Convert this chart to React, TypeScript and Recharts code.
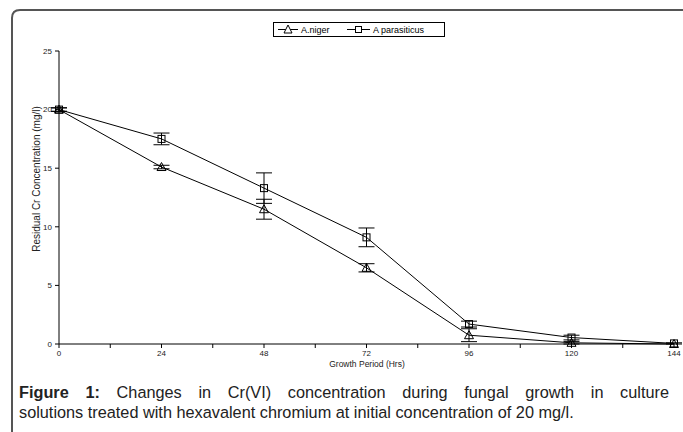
import React from 'react';
import { LineChart, Line, XAxis, YAxis, ErrorBar } from 'recharts';

const hours = [0, 24, 48, 72, 96, 120, 144];
const nigerValues = [20, 15.1, 11.5, 6.5, 0.75, 0.1, 0];
const nigerErrors = [0.15, 0.15, 0.85, 0.35, 0.55, 0.1, 0];
const parasiticusValues = [20, 17.5, 13.3, 9.1, 1.7, 0.55, 0.05];
const parasiticusErrors = [0.15, 0.5, 1.3, 0.8, 0.25, 0.2, 0.05];
const xTicks = [0, 12, 24, 36, 48, 60, 72, 84, 96, 108, 120, 132, 144];
const yTicks = [0, 5, 10, 15, 20, 25];
const seriesNames = ['A.niger', 'A parasiticus'];
const xTitle = 'Growth Period (Hrs)';
const yTitle = 'Residual Cr Concentration (mg/l)';
const captionBold = 'Figure 1:';
const captionLine1 = ' Changes in Cr(VI) concentration during fungal growth in culture';
const captionLine2 = 'solutions treated with hexavalent chromium at initial concentration of 20 mg/l.';

const data = hours.map((h, i) => ({
  hour: h,
  niger: nigerValues[i],
  nigerErr: nigerErrors[i],
  para: parasiticusValues[i],
  paraErr: parasiticusErrors[i],
}));

const FONT = '"Liberation Sans", Arial, sans-serif';

const TriangleDot = (props: any) => {
  const { cx, cy } = props;
  if (cx == null || cy == null) return null;
  return (
    <path
      d={`M${cx},${cy - 4.5} L${cx + 4.5},${cy + 3.5} L${cx - 4.5},${cy + 3.5} Z`}
      fill="none"
      stroke="#000"
      strokeWidth={1}
    />
  );
};

const SquareDot = (props: any) => {
  const { cx, cy } = props;
  if (cx == null || cy == null) return null;
  return <rect x={cx - 3.5} y={cy - 3.5} width={7} height={7} fill="none" stroke="#000" strokeWidth={1} />;
};

const XTick = (props: any) => {
  const { x, y, payload } = props;
  const show = payload.value % 24 === 0;
  return (
    <g>
      {show && (
        <text x={x} y={y + 6} textAnchor="middle" fontSize={8} fill="#222" fontFamily={FONT}>
          {payload.value}
        </text>
      )}
    </g>
  );
};

export default function App() {
  return (
    <div style={{ position: 'absolute', left: 0, top: 0, width: 683, height: 432, background: '#fff', overflow: 'hidden' }}>
      <div style={{ position: 'absolute', left: 0, top: 0 }}>
        <LineChart width={683} height={432} data={data} margin={{ top: 51, right: 9, bottom: 58, left: 0 }}>
          <XAxis
            dataKey="hour"
            type="number"
            domain={[0, 144]}
            ticks={xTicks}
            interval={0}
            tick={<XTick />}
            tickSize={4}
            height={30}
            axisLine={{ stroke: '#000' }}
            tickLine={{ stroke: '#000' }}
          />
          <YAxis
            type="number"
            domain={[0, 25]}
            ticks={yTicks}
            interval={0}
            width={59}
            tickSize={4}
            tickMargin={3}
            axisLine={{ stroke: '#000' }}
            tickLine={{ stroke: '#000' }}
            tick={{ fontSize: 8, fill: '#222', fontFamily: FONT }}
          />
          <Line
            dataKey="niger"
            name={seriesNames[0]}
            stroke="#000"
            strokeWidth={1}
            isAnimationActive={false}
            dot={<TriangleDot />}
            activeDot={false}
          >
            <ErrorBar dataKey="nigerErr" direction="y" width={8} stroke="#000" strokeWidth={1} />
          </Line>
          <Line
            dataKey="para"
            name={seriesNames[1]}
            stroke="#000"
            strokeWidth={1}
            isAnimationActive={false}
            dot={<SquareDot />}
            activeDot={false}
          >
            <ErrorBar dataKey="paraErr" direction="y" width={8} stroke="#000" strokeWidth={1} />
          </Line>
        </LineChart>
      </div>
      <svg width={683} height={432} style={{ position: 'absolute', left: 0, top: 0, pointerEvents: 'none' }}>
        <path d="M12,432 L12,18 Q12,10 20,10 L683,10" fill="none" stroke="#555" strokeWidth={2} />
        <g>
          <rect x={273.5} y={22.5} width={171} height={14} fill="#fff" stroke="#000" strokeWidth={1} />
          <line x1={278} y1={29.5} x2={298} y2={29.5} stroke="#000" />
          <path d="M288,25 L292,33 L284,33 Z" fill="#fff" stroke="#000" />
          <text x={301} y={33} fontSize={9} fontFamily={FONT} fill="#000">{seriesNames[0]}</text>
          <line x1={347} y1={29.5} x2={370} y2={29.5} stroke="#000" />
          <rect x={355.5} y={26.5} width={6} height={6} fill="#fff" stroke="#000" />
          <text x={373} y={33} fontSize={9} fontFamily={FONT} fill="#000">{seriesNames[1]}</text>
        </g>
        <text x={367} y={367} textAnchor="middle" fontSize={8.5} fontFamily={FONT} fill="#222">{xTitle}</text>
        <text
          x={40}
          y={179}
          textAnchor="middle"
          fontSize={10}
          fontFamily={FONT}
          fill="#222"
          transform="rotate(-90 40 179)"
        >
          {yTitle}
        </text>
      </svg>
      <div style={{ position: 'absolute', left: 19, top: 382, width: 650, fontFamily: FONT, fontSize: 16.3, lineHeight: '20px', color: '#222' }}>
        <div style={{ textAlign: 'justify', textAlignLast: 'justify' as any }}>
          <b>{captionBold}</b>{captionLine1}
        </div>
        <div>{captionLine2}</div>
      </div>
    </div>
  );
}
